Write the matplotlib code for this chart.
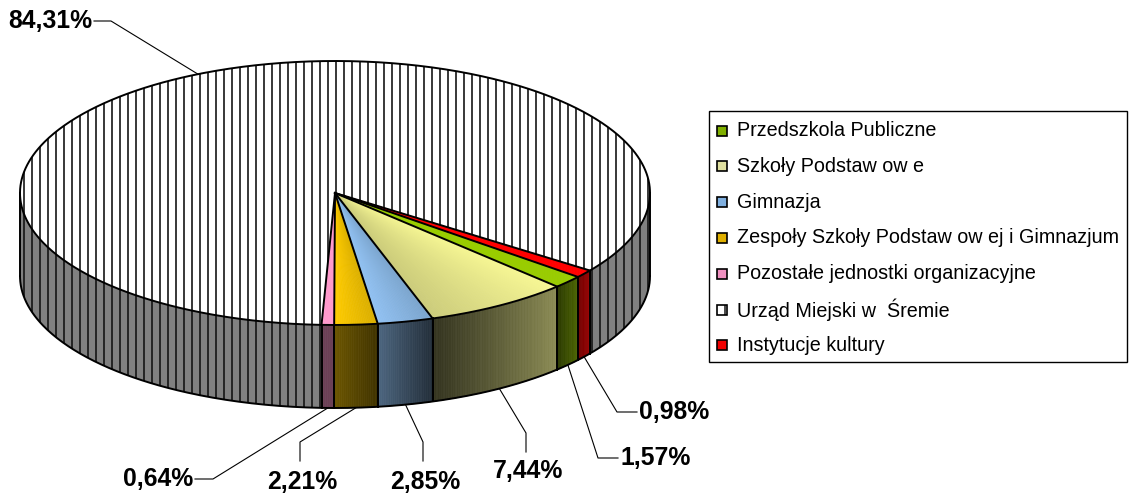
# -*- coding:utf-8 -*-
# wykres kolowy 3D - udzial jednostek
import numpy as np
import matplotlib.pyplot as plt
from matplotlib.patches import Polygon, Rectangle
from matplotlib.collections import PolyCollection, LineCollection
from matplotlib.colors import to_rgb

plt.rcParams['font.family'] = ['Liberation Sans', 'DejaVu Sans']

categories = ['Przedszkola Publiczne', 'Szkoły Podstaw ow e', 'Gimnazja',
              'Zespoły Szkoły Podstaw ow ej i Gimnazjum',
              'Pozostałe jednostki organizacyjne', 'Urząd Miejski w  Śremie',
              'Instytucje kultury']
shares = [1.57, 7.44, 2.85, 2.21, 0.64, 84.31, 0.98]

# style
top_colors = ['#99CC00', '#FFFF99', '#99CCFF', '#FFCC00', '#FF99CC', '#FFFFFF', '#FF0000']
top_shade = [(1, 1), (0.97, 0.8), (0.8, 0.95), (0.85, 1.0), (1, 1), None, (1, 1)]
wall_shade = [(0.5, 0.28), (0.55, 0.2), (0.22, 0.5), (0.25, 0.42), (0.42, 0.42), None, (0.6, 0.45)]
legend_colors = ['#80B000', '#E0E0A0', '#80B0E0', '#E0B000', '#F090C0', '#FFFFFF', '#F00000']
hatched = [False, False, False, False, False, True, False]

# geometria (piksele)
cx, cy, a, b, depth = 335, 193, 315, 132, 83
start = 39.5
stripe_step = 8

# polozenie etykiet: (punkt zalamania, koniec linii, tekst x, tekst y, ha)
label_layout = [
    ((598, 458), (618, 458), 620, 458, 'left'),
    ((526, 433), (526, 452), 528, 471, 'center'),
    ((423, 442), (423, 461), 425, 482, 'center'),
    ((300, 442), (300, 461), 302, 482, 'center'),
    ((213, 479), (195, 479), 193, 479, 'right'),
    ((111, 21), (94, 21), 92, 21, 'right'),
    ((617, 412), (637, 412), 639, 412, 'left'),
]


def rim(t, dy=0):
    r = np.radians(t)
    return cx + a * np.cos(r), cy + b * np.sin(r) + dy


def stripes(patch, x0, x1, y0, y1):
    xs = np.arange(np.ceil(x0 / stripe_step) * stripe_step, x1, stripe_step)
    lc = LineCollection([[(x, y0), (x, y1)] for x in xs], colors='#151515',
                        linewidths=1.2, zorder=patch.get_zorder() + 0.1)
    ax.add_collection(lc)
    lc.set_clip_path(patch)


fig = plt.figure(figsize=(11.35, 4.95), dpi=100)
ax = fig.add_axes([0, 0, 1, 1])
ax.set_xlim(0, 1135)
ax.set_ylim(495, 0)
ax.axis('off')

bounds = start + 360 * np.concatenate([[0], np.cumsum(shares)]) / 100.0

for i, v in enumerate(shares):
    t0, t1 = bounds[i], bounds[i + 1]
    base = np.array(to_rgb(top_colors[i]))

    # sciana boczna (widoczna tylko z przodu)
    for off in (0, 360):
        lo, hi = max(t0, off), min(t1, off + 180)
        if hi <= lo:
            continue
        if hatched[i]:
            ts = np.linspace(lo, hi, 200)
            xs, ys = rim(ts)
            pts = np.vstack([np.column_stack([xs, ys]),
                             np.column_stack([xs[::-1], ys[::-1] + depth])])
            p = Polygon(pts, closed=True, facecolor='#808080', lw=0, zorder=1)
            ax.add_patch(p)
            stripes(p, xs.min(), xs.max(), ys.min() - 2, ys.max() + depth + 2)
        else:
            n = max(int((hi - lo) * 3), 2)
            ts = np.linspace(lo, hi, n + 1)
            quads, cols = [], []
            s0, s1 = wall_shade[i]
            for k in range(n):
                x0, y0 = rim(ts[k])
                x1, y1 = rim(ts[k + 1])
                quads.append([(x0, y0), (x1, y1), (x1, y1 + depth), (x0, y0 + depth)])
                u = ((ts[k] + ts[k + 1]) / 2 - t0) / (t1 - t0)
                cols.append(np.clip(base * (s0 + (s1 - s0) * u), 0, 1))
            ax.add_collection(PolyCollection(quads, facecolors=cols, edgecolors=cols,
                                             linewidths=0.5, zorder=1))

    # wierzch
    if hatched[i]:
        ts = np.linspace(t0, t1, 400)
        xs, ys = rim(ts)
        pts = np.vstack([[cx, cy], np.column_stack([xs, ys])])
        p = Polygon(pts, closed=True, facecolor='white', lw=0, zorder=2)
        ax.add_patch(p)
        stripes(p, cx - a, cx + a, cy - b - 2, cy + b + 2)
    else:
        n = max(int((t1 - t0) * 3), 2)
        ts = np.linspace(t0, t1, n + 1)
        tris, cols = [], []
        s0, s1 = top_shade[i]
        for k in range(n):
            tris.append([(cx, cy), rim(ts[k]), rim(ts[k + 1])])
            u = ((ts[k] + ts[k + 1]) / 2 - t0) / (t1 - t0)
            cols.append(np.clip(base * (s0 + (s1 - s0) * u), 0, 1))
        ax.add_collection(PolyCollection(tris, facecolors=cols, edgecolors=cols,
                                         linewidths=0.5, zorder=2))

# kontury
lw = 1.4
ts = np.linspace(0, 360, 720)
ax.plot(*rim(ts), color='black', lw=lw, zorder=3)
ts = np.linspace(0, 180, 360)
ax.plot(*rim(ts, depth), color='black', lw=lw, zorder=3)
for t in (0, 180):
    x, y = rim(t)
    ax.plot([x, x], [y, y + depth], color='black', lw=lw, zorder=3)
for t in bounds[:-1]:
    x, y = rim(t)
    ax.plot([cx, x], [cy, y], color='black', lw=lw, zorder=3)
    if 0 <= (t % 360) <= 180:
        ax.plot([x, x], [y, y + depth], color='black', lw=lw, zorder=3)

# etykiety procentowe z liniami odniesienia
for i, v in enumerate(shares):
    tm = (bounds[i] + bounds[i + 1]) / 2
    if 0 <= (tm % 360) <= 180:
        ax_x, ax_y = rim(tm, depth)
    else:
        ax_x, ax_y = rim(tm)
    elbow, end, tx, ty, ha = label_layout[i]
    ax.plot([ax_x, elbow[0], end[0]], [ax_y, elbow[1], end[1]],
            color='black', lw=0.8, zorder=4)
    ax.text(tx, ty, f'{v:.2f}%'.replace('.', ','), fontsize=17.8, fontweight='bold',
            ha=ha, va='center', zorder=5)

# legenda
ax.add_patch(Rectangle((709, 111), 418, 251, facecolor='white', edgecolor='black',
                       lw=1, zorder=4))
for i, name in enumerate(categories):
    y = 130.5 + i * 35.8
    ax.add_patch(Rectangle((717, y - 5), 10, 10, facecolor=legend_colors[i],
                           edgecolor='black', lw=1.2, hatch='|' if hatched[i] else None,
                           zorder=5))
    ax.text(737, y, name, fontsize=14.2, ha='left', va='center', zorder=5)

plt.savefig('out.png', dpi=100)
